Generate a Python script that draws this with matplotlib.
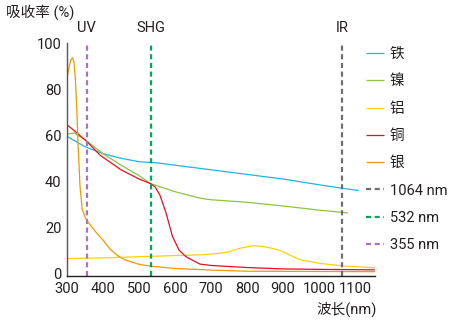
import matplotlib
matplotlib.use("Agg")
import matplotlib.pyplot as plt
from matplotlib import font_manager

names = {f.name for f in font_manager.fontManager.ttflist}
latin = "Liberation Sans Narrow" if "Liberation Sans Narrow" in names else "Roboto"
plt.rcParams['font.family'] = [latin, 'Noto Sans CJK SC', 'DejaVu Sans']

# ---- data ----
iron_x = [300, 350, 400, 450, 500, 550, 600, 650, 700, 800, 900, 1000, 1064, 1110]
iron_y = [59.5, 55, 52, 50, 48.5, 48, 47, 46, 45, 43, 41, 38.5, 37, 36]

nickel_x = [300, 320, 350, 400, 450, 500, 532, 600, 669, 700, 800, 900, 1000, 1080]
nickel_y = [60.5, 61, 58, 52, 47, 42.5, 39, 35.5, 32.7, 32, 30.9, 29.3, 27.5, 26.3]

alu_x = [300, 400, 500, 600, 669, 706, 744, 781, 817, 850, 873, 892, 928, 947, 1003, 1064, 1155]
alu_y = [6.5, 6.8, 7.3, 7.8, 8.1, 8.5, 9.2, 11.0, 12.1, 11.6, 10.8, 10.0, 7.3, 6.0, 4.4, 3.3, 2.5]

copper_x = [300, 320, 355, 392, 450, 500, 532, 545, 558, 575, 593, 611, 630, 669, 700, 800, 900, 1000, 1155]
copper_y = [64.5, 62, 57.3, 51.3, 45, 41, 39, 37.5, 34, 26.3, 16, 10.2, 7.3, 4.1, 3.5, 2.6, 2.0, 1.8, 1.6]

silver_x = [300, 305, 310, 315, 319, 323, 327, 331, 336, 342, 350, 360, 380, 400, 420, 440,
            460, 500, 532, 600, 700, 800, 1155]
silver_y = [85, 89, 92.5, 93.6, 92, 85, 72, 55, 38, 28, 24.5, 22, 18, 14.5, 10.5, 7.8,
            6, 4, 3.2, 2.2, 1.5, 1.0, 0.8]

metal_labels = ['铁', '镍', '铝', '铜', '银']
laser_nm = [1064, 532, 355]
laser_labels = ['1064 nm', '532 nm', '355 nm']
laser_tags = ['IR', 'SHG', 'UV']

x_ticks = [300, 400, 500, 600, 700, 800, 900, 1000, 1100]
y_ticks = [0, 20, 40, 60, 80, 100]

# ---- style ----
metal_colors = ['#1fb4e6', '#8cc43c', '#ffd200', '#e60f1e', '#f39800']
laser_colors = ['#6e6e6e', '#00a85a', '#a478b8']
txt = '#231f20'

fig = plt.figure(figsize=(4.6, 3.21), dpi=100)
ax = fig.add_axes([0.1457, 0.140, 0.815 - 0.1457, 0.866 - 0.140])

series = [(iron_x, iron_y), (nickel_x, nickel_y), (alu_x, alu_y),
          (copper_x, copper_y), (silver_x, silver_y)]
handles = []
for (xs, ys), c, lab in zip(series, metal_colors, metal_labels):
    h, = ax.plot(xs, ys, color=c, lw=0.9, label=lab, solid_capstyle='butt')
    handles.append(h)

for nm, c, lab, tag in zip(laser_nm, laser_colors, laser_labels, laser_tags):
    h = ax.axvline(nm, color=c, lw=1.6, dashes=(2.3, 1.6), label=lab)
    handles.append(h)
    ax.text(nm, 103.5, tag, ha='center', va='bottom', fontsize=10.5, color=txt,
            transform=ax.transData, clip_on=False)

ax.set_xlim(300, 1155)
ax.set_ylim(-1.1, 100)
ax.set_xticks(x_ticks)
ax.set_yticks(y_ticks)
ax.tick_params(length=0, labelsize=10.5, colors=txt, pad=4)
for s in ['top', 'right']:
    ax.spines[s].set_visible(False)
ax.spines['left'].set_color('#555555')
ax.spines['bottom'].set_color(txt)
ax.spines['left'].set_linewidth(1.0)
ax.spines['bottom'].set_linewidth(1.0)

fig.text(0.012, 0.962, '吸收率 (%)', fontsize=10.5, color=txt, ha='left', va='center')
fig.text(0.82, 0.038, '波长(nm)', fontsize=10.5, color=txt, ha='right', va='center')

leg = fig.legend(handles=handles, loc='upper left', bbox_to_anchor=(0.768, 0.894),
                 frameon=False, handlelength=1.2, handletextpad=0.4,
                 labelspacing=0.91, fontsize=10.5)
for t in leg.get_texts():
    t.set_color(txt)

fig.savefig('out.png', dpi=100)
